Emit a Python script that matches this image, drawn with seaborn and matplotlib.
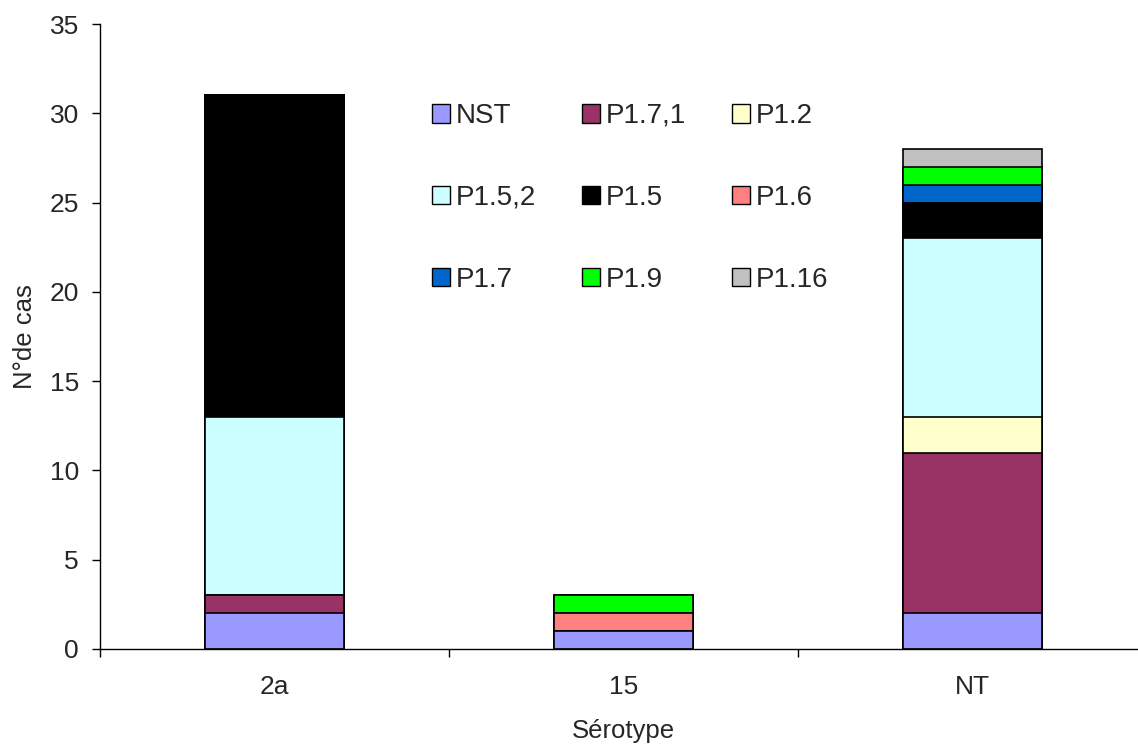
import numpy as np
import pandas as pd
import matplotlib
matplotlib.use("Agg")
import matplotlib.pyplot as plt
import seaborn as sns
from matplotlib.patches import Patch

categories = ["2a", "15", "NT"]
series = ["NST", "P1.7,1", "P1.2", "P1.5,2", "P1.5", "P1.6", "P1.7", "P1.9", "P1.16"]
nst    = [2, 1, 2]
p1_7_1 = [1, 0, 9]
p1_2   = [0, 0, 2]
p1_5_2 = [10, 0, 10]
p1_5   = [18, 0, 2]
p1_6   = [0, 1, 0]
p1_7   = [0, 0, 1]
p1_9   = [0, 1, 1]
p1_16  = [0, 0, 1]
values = [nst, p1_7_1, p1_2, p1_5_2, p1_5, p1_6, p1_7, p1_9, p1_16]
colors = ["#9999FF", "#993366", "#FFFFCC", "#CCFFFF", "#000000",
          "#FF8080", "#0066CC", "#00FF00", "#C0C0C0"]
yticks = [0, 5, 10, 15, 20, 25, 30, 35]

sns.set_style("white")
plt.rcParams["font.family"] = ["Liberation Sans", "DejaVu Sans"]

fig = plt.figure(figsize=(11.38, 7.47), dpi=100)
ax = fig.add_axes([100/1138, 98/747, 1047/1138, 625/747])

cum = np.cumsum(np.array(values), axis=0)
# draw from the top of the stack downwards so each segment shows
for i in range(len(series) - 1, -1, -1):
    mask = np.array(values[i]) > 0
    base = np.zeros(3) if i == 0 else cum[i - 1]
    top = np.where(mask, cum[i], base)
    df = pd.DataFrame({"cat": categories, "val": top})
    sns.barplot(data=df, x="cat", y="val", order=categories, color=colors[i],
                width=0.4, edgecolor="black", linewidth=1.2, saturation=1,
                ax=ax, errorbar=None)

ax.set_xlim(-0.5, 2.5)
ax.set_ylim(0, 35)
ax.set_yticks(yticks)
ax.tick_params(axis="y", which="major", direction="out", length=5.8, width=1,
               color="black", labelsize=19, pad=9.5, left=True)
ax.tick_params(axis="x", which="major", length=0, labelsize=19, pad=19)
ax.set_xticks([-0.5, 0.5, 1.5, 2.5], minor=True)
ax.tick_params(axis="x", which="minor", direction="out", length=5.8, width=1,
               color="black", bottom=True)
for s in ["top", "right"]:
    ax.spines[s].set_visible(False)
for s in ["left", "bottom"]:
    ax.spines[s].set_color("black")
    ax.spines[s].set_linewidth(1)
ax.set_xlabel("Sérotype", fontsize=18.5, labelpad=14)
ax.set_ylabel("N°de cas", fontsize=18.5, labelpad=9)

# legend laid out row by row (matplotlib fills columns first)
order = [0, 3, 6, 1, 4, 7, 2, 5, 8]
handles = [Patch(facecolor=colors[k], edgecolor="black", linewidth=1) for k in order]
labels = [series[k] for k in order]
ax.legend(handles, labels, ncol=3, loc="upper left",
          bbox_to_anchor=(332/1047, 1 - 79/625), frameon=False,
          borderpad=0, borderaxespad=0,
          fontsize=20, handlelength=0.65, handleheight=0.65,
          handletextpad=0.2, labelspacing=2.01, columnspacing=1.66)

fig.savefig("out.png", dpi=100)
